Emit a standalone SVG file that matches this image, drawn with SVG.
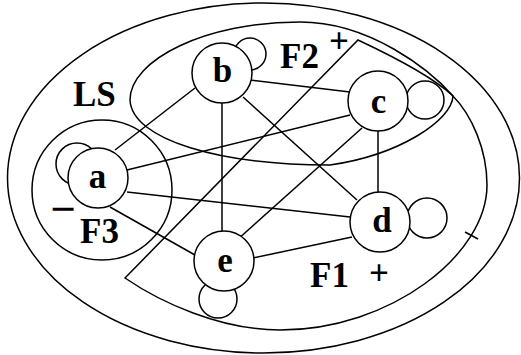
<svg xmlns="http://www.w3.org/2000/svg" width="521" height="355" viewBox="0 0 521 355">
<style>
.ln{fill:none;stroke:#000;stroke-width:1.5}
.nd{fill:#fff;stroke:#000;stroke-width:1.5}
.lp{fill:none;stroke:#000;stroke-width:1.5}
.t{font-family:"Liberation Serif","Times New Roman",serif;font-weight:bold;font-size:35px;fill:#000}
.m{text-anchor:middle}
</style>
<rect width="521" height="355" fill="#fff"/>
<g id="regions">
<ellipse id="outer" class="ln" cx="263.5" cy="178" rx="256" ry="175"/>
<path id="F2-region" class="ln" d="M130,100 C130,60 205,22 300,22 C370,22 430,70 453,96 C452,120 400,155 330,165 C220,165 132,140 130,100 Z"/>
<path id="F1-region" class="ln" d="M125,278 L358,40 C390,55 430,75 452,95 C472,115 487,150 487,185 C487,255 390,330 280,330 C220,330 160,302 125,278 Z"/>
<circle id="F3-region" class="ln" cx="102" cy="190" r="70"/>
<line class="ln" x1="465" y1="232" x2="478" y2="239"/>
</g>
<g id="connectors" class="ln">
<line x1="115" y1="150" x2="195" y2="88"/>
<line x1="127" y1="170" x2="350" y2="115"/>
<line x1="127" y1="192" x2="350" y2="217"/>
<line x1="110" y1="207" x2="195" y2="255"/>
<line x1="222" y1="100" x2="222" y2="232"/>
<line x1="250" y1="80" x2="350" y2="92"/>
<line x1="243" y1="97" x2="357" y2="200"/>
<line x1="378" y1="128" x2="378" y2="194"/>
<line x1="362" y1="128" x2="237" y2="240"/>
<line x1="352" y1="237" x2="253" y2="258"/>
</g>
<g id="loops">
<circle class="lp" cx="77" cy="164" r="21"/>
<circle class="lp" cx="250" cy="54" r="16"/>
<circle class="lp" cx="425" cy="100" r="19"/>
<circle class="lp" cx="427" cy="218" r="20"/>
<circle class="lp" cx="218" cy="299" r="19"/>
</g>
<g id="node-a"><circle class="nd" cx="98" cy="178" r="30"/><text class="t m" x="97.5" y="188">a</text></g>
<g id="node-b"><circle class="nd" cx="222" cy="73" r="30"/><text class="t m" x="222.5" y="82">b</text></g>
<g id="node-c"><circle class="nd" cx="378" cy="101" r="30"/><text class="t m" x="378.5" y="113">c</text></g>
<g id="node-d"><circle class="nd" cx="380" cy="222" r="30"/><text class="t m" x="382" y="232">d</text></g>
<g id="node-e"><circle class="nd" cx="224" cy="261" r="30"/><text class="t m" x="225" y="272">e</text></g>
<g id="labels">
<text class="t" x="73" y="106">LS</text>
<text class="t" x="280" y="68">F2</text>
<text class="t" x="329" y="53">+</text>
<text class="t" x="80" y="243">F3</text>
<text class="t" x="50.5" y="224" style="font-size:45px">−</text>
<text class="t" x="310" y="287">F1</text>
<text class="t" x="369" y="285">+</text>
</g>
</svg>
